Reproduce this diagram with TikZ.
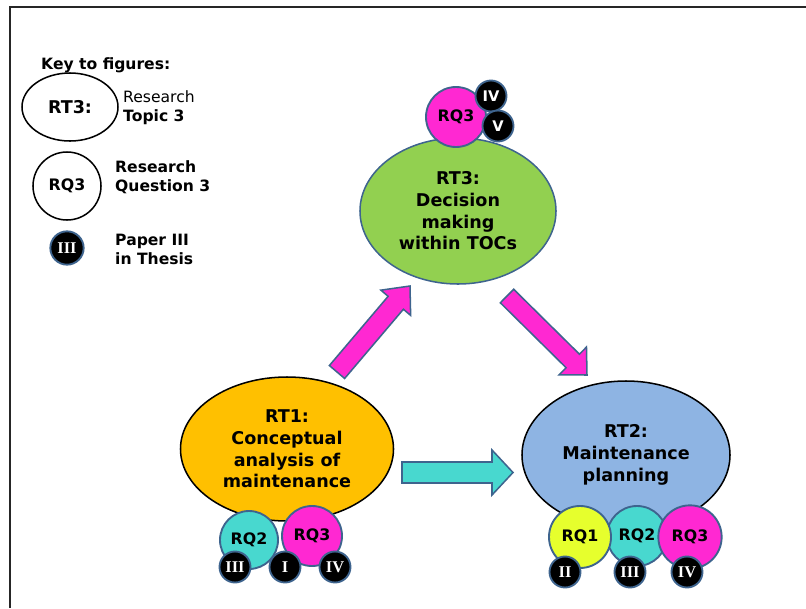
\documentclass[tikz,border=0pt]{standalone}
\usepackage{fontspec}
\setmainfont{DejaVu Sans}
\newfontfamily\numfont{Liberation Serif}
\usetikzlibrary{shapes.geometric,calc}

\definecolor{edgeblue}{RGB}{62,100,142}
\definecolor{topicorange}{RGB}{255,192,0}
\definecolor{topicgreen}{RGB}{146,208,80}
\definecolor{topicblue}{RGB}{142,180,227}
\definecolor{qmagenta}{RGB}{255,40,210}
\definecolor{qcyan}{RGB}{72,216,207}
\definecolor{qyellow}{RGB}{230,255,45}

% block arrow: tail, tip, half shaft, half head, head length, fill
\newcommand{\blockarrow}[6]{%
  \coordinate (#1neck) at ($(#2)!#5!(#1)$);
  \draw[block, fill=#6] ($(#1)!#3!90:(#2)$) -- ($(#1neck)!#3!90:(#2)$)
    -- ($(#1neck)!#4!90:(#2)$) -- (#2) -- ($(#1neck)!#4!-90:(#2)$)
    -- ($(#1neck)!#3!-90:(#2)$) -- ($(#1)!#3!-90:(#2)$) -- cycle;
}

\begin{document}
\begin{tikzpicture}[x=0.03cm, y=-0.03cm,
    topic/.style={ellipse, draw, line width=1.3pt, inner sep=0pt, align=center,
      font=\fontsize{15}{18.5}\selectfont\bfseries},
    question/.style={circle, draw=edgeblue, line width=1.6pt, inner sep=0pt,
      minimum size=1.8cm, font=\fontsize{13.5}{13.5}\selectfont\bfseries},
    paper/.style={circle, draw=edgeblue, fill=black, text=white, line width=1.6pt,
      inner sep=0pt, minimum size=0.93cm, font=\fontsize{14}{14}\selectfont\numfont\bfseries},
    keytext/.style={anchor=west, align=left, inner sep=0pt,
      font=\fontsize{13.3}{16.2}\selectfont\bfseries},
    block/.style={draw=edgeblue, line width=1.3pt, line join=miter}]
    \useasboundingbox (0,0) rectangle (806,608);

    % Frame
    \draw[line width=1.7pt, black!85] (10,608) -- (10,7) -- (806,7);

    % Key
    \node[keytext] (keytitle) at (41,65) {Key to figures:};
    \node[ellipse, draw, line width=1.3pt, minimum width=2.88cm, minimum height=2.04cm,
      inner sep=0pt, font=\fontsize{15}{15}\selectfont\bfseries] (keytopic) at (70,107) {RT3:};
    \node[keytext] (keytopictext) at (123,108) {\mdseries Research\\Topic 3};
    \node[circle, draw, line width=1.3pt, minimum size=2.04cm, inner sep=0pt,
      font=\fontsize{13.5}{13.5}\selectfont\bfseries] (keyquestion) at (67,186) {RQ3};
    \node[keytext] (keyquestiontext) at (115,177) {Research\\Question 3};
    \node[paper, minimum size=1.0cm] (keypaper) at (67,248) {III};
    \node[keytext] (keypapertext) at (115,249) {Paper III\\in Thesis};

    % Research topics
    \node[topic, fill=topicgreen, draw=edgeblue, minimum width=5.88cm, minimum height=4.38cm]
      (rtthree) at (458,211) {RT3:\\Decision\\making\\within TOCs};
    \node[topic, fill=topicorange, minimum width=6.39cm, minimum height=4.32cm]
      (rtone) at (287,449) {RT1:\\Conceptual\\analysis of\\maintenance};
    \node[topic, fill=topicblue, minimum width=6.24cm, minimum height=4.44cm]
      (rttwo) at (626,455) {RT2:\\Maintenance\\planning};

    % Questions and papers of RT3
    \node[question, fill=qmagenta] (rtthreeqthree) at (456,117) {RQ3};
    \node[paper, font=\fontsize{12.5}{12.5}\selectfont\bfseries] (rtthreepiv) at (491,96) {IV};
    \node[paper, font=\fontsize{12.5}{12.5}\selectfont\bfseries] (rtthreepv) at (498,126) {V};

    % Questions and papers of RT1
    \node[question, fill=qcyan, minimum size=1.74cm] (rtoneqtwo) at (249,540) {RQ2};
    \node[question, fill=qmagenta] (rtoneqthree) at (312,536) {RQ3};
    \node[paper] (rtonepiii) at (235,567) {III};
    \node[paper] (rtonepi) at (285,567) {I};
    \node[paper] (rtonepiv) at (335,567) {IV};

    % Questions and papers of RT2
    \node[question, fill=qcyan] (rttwoqtwo) at (637,536) {RQ2};
    \node[question, fill=qyellow, minimum size=1.86cm] (rttwoqone) at (580,537) {RQ1};
    \node[question, fill=qmagenta, minimum size=1.9cm] (rttwoqthree) at (690,537) {RQ3};
    \node[paper] (rttwopii) at (565,572) {II};
    \node[paper] (rttwopiii) at (630,572) {III};
    \node[paper] (rttwopiv) at (687,572) {IV};

    % Arrows between topics
    \coordinate (onethreetail) at (337,372);
    \coordinate (onethreetip) at (410,286);
    \coordinate (threetwotail) at (507,296);
    \coordinate (threetwotip) at (587,375);
    \coordinate (onetwotail) at (402,472.5);
    \coordinate (onetwotip) at (513,472.5);
    \blockarrow{onethreetail}{onethreetip}{0.3cm}{0.585cm}{0.66cm}{qmagenta}
    \blockarrow{threetwotail}{threetwotip}{0.285cm}{0.585cm}{0.6cm}{qmagenta}
    \blockarrow{onetwotail}{onetwotip}{0.315cm}{0.675cm}{0.63cm}{qcyan}
\end{tikzpicture}
\end{document}
